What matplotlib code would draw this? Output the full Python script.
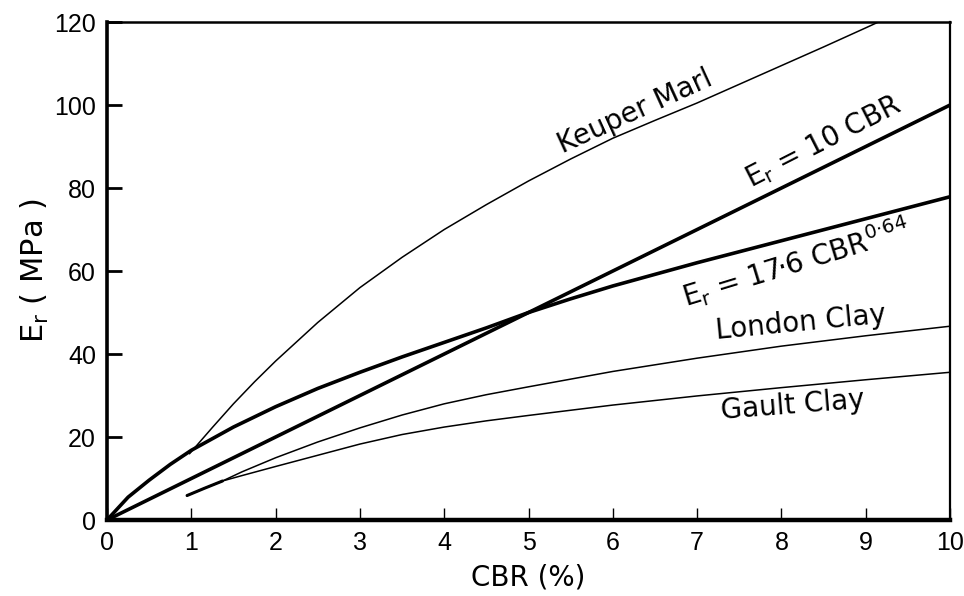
import numpy as np
import matplotlib
matplotlib.use("Agg")
import matplotlib.pyplot as plt

# values
line10_x = [0, 10]
line10_y = [0, 100]

power_x = [0, 0.25, 0.5, 0.75, 1, 1.5, 2, 2.5, 3, 3.5, 4, 4.5, 5, 5.5, 6, 7, 8, 9, 10]
power_y = [0, 5.5, 9.6, 13.4, 16.8, 22.4, 27.3, 31.7, 35.6, 39.3, 42.8, 46.3, 50.0, 53.3, 56.4, 62.0, 67.3, 72.6, 77.9]

keuper_x = [0.98, 1.25, 1.5, 1.75, 2, 2.5, 3, 3.5, 4, 4.5, 5, 5.5, 6, 6.5, 7, 7.5, 8, 8.5, 9, 9.15]
keuper_y = [16, 22.3, 28, 33.3, 38.3, 47.6, 56, 63.3, 70, 76, 81.7, 87, 92, 96.3, 100.5, 105, 109.5, 114, 118.6, 120]

london_x = [0.95, 1.15, 1.37, 1.6, 2, 2.5, 3, 3.5, 4, 4.5, 5, 6, 7, 8, 9, 10]
london_y = [5.9, 7.6, 9.4, 11.6, 15.0, 18.8, 22.2, 25.3, 28.0, 30.2, 32.1, 35.8, 39.0, 41.9, 44.4, 46.7]

gault_x = [0.95, 1.15, 1.37, 1.6, 2, 2.5, 3, 3.5, 4, 4.5, 5, 6, 7, 8, 9, 10]
gault_y = [5.9, 7.6, 9.4, 10.7, 12.9, 15.6, 18.3, 20.6, 22.4, 23.9, 25.2, 27.7, 29.9, 31.9, 33.8, 35.6]

x_ticks = list(range(0, 11))
y_ticks = list(range(0, 121, 20))

fig = plt.figure(figsize=(9.64, 5.96), dpi=100)
ax = fig.add_axes([0.111, 0.1275, 0.8745, 0.8355])

thick = 2.6
thin = 1.1
ax.plot(line10_x, line10_y, color="black", lw=thick, solid_capstyle="butt")
ax.plot(power_x, power_y, color="black", lw=thick, solid_capstyle="butt")
ax.plot(keuper_x, keuper_y, color="black", lw=thin)
ax.plot(london_x, london_y, color="black", lw=thin)
ax.plot(gault_x, gault_y, color="black", lw=thin)
# shared stub of the two clay curves is drawn heavier in the original
ax.plot(gault_x[:3], gault_y[:3], color="black", lw=2.2, solid_capstyle="round")

ax.set_xlim(0, 10)
ax.set_ylim(0, 120)
ax.set_xticks(x_ticks)
ax.set_yticks(y_ticks)

tick_font = ["Liberation Sans", "DejaVu Sans"]
ax.tick_params(axis="y", direction="in", length=11, width=2.0, pad=8)
ax.tick_params(axis="x", direction="in", length=9, width=1.0, pad=8)
for lab in ax.get_xticklabels() + ax.get_yticklabels():
    lab.set_family(tick_font)
    lab.set_fontsize(18)

for side, w in [("left", 2.6), ("bottom", 3.2), ("top", 1.8), ("right", 1.6)]:
    ax.spines[side].set_linewidth(w)

ax.set_xlabel("CBR (%)", fontsize=20, labelpad=6)
ax.set_ylabel(r"$\mathregular{E_r}$ ( MPa )", fontsize=22, labelpad=2)

txt = dict(fontsize=20, ha="center", va="center", rotation_mode="anchor")
ax.text(6.26, 98.3, "Keuper Marl", rotation=24.5, **txt)
ax.text(8.49, 91.0, r"$\mathregular{E_r}$ = 10 CBR", rotation=27, **txt)
ax.text(8.17, 62.0, r"$\mathregular{E_r}$ = 17·6 CBR$\mathregular{^{0·64}}$", rotation=17, **txt)
ax.text(8.23, 47.5, "London Clay", rotation=5.5, **txt)
ax.text(8.13, 27.6, "Gault Clay", rotation=4.5, **txt)

fig.savefig("out.png", dpi=100)
